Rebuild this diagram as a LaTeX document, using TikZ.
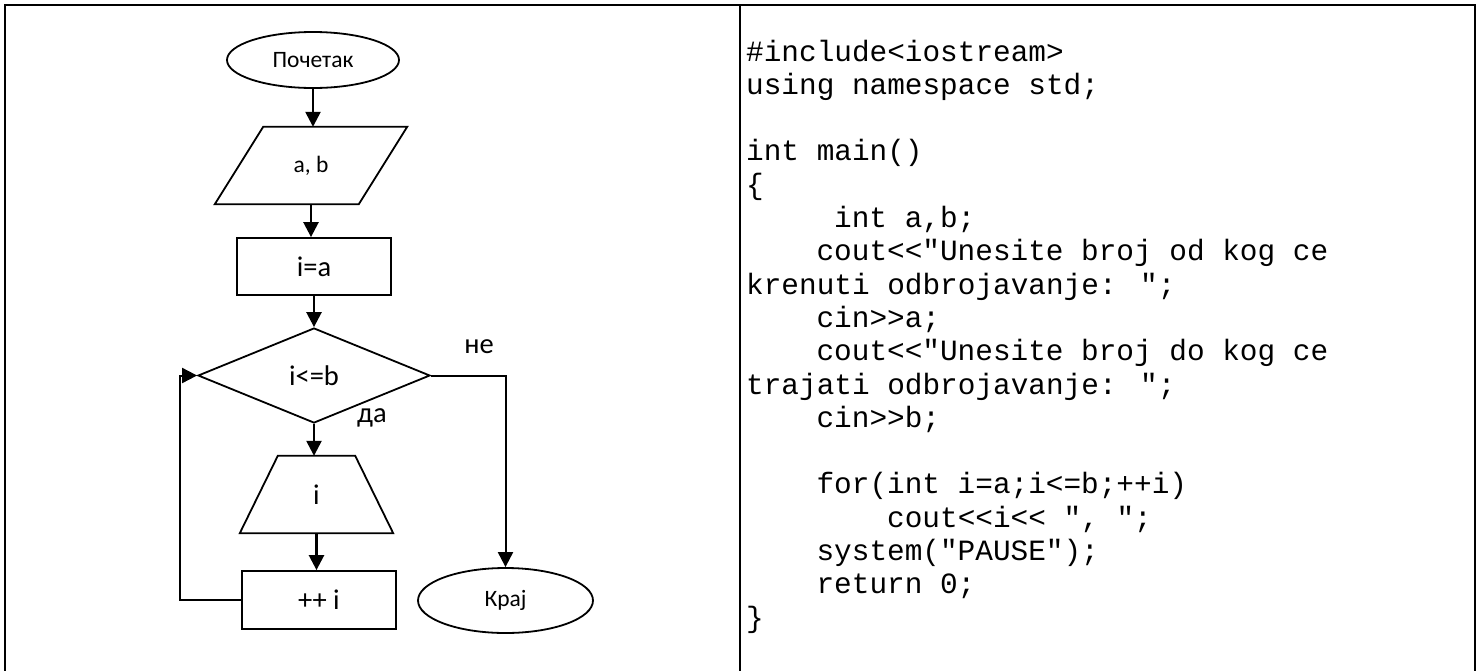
\documentclass[tikz,border=0pt]{standalone}
\usepackage{fontspec}
\setmainfont{Carlito}
\newfontfamily\codefont{Liberation Mono}
\usetikzlibrary{shapes.geometric,arrows.meta}
\begin{document}
\begin{tikzpicture}[x=1pt,y=-1pt,
  shp/.style={draw,line width=1.8pt,inner sep=0pt},
  ghost/.style={inner sep=0pt},
  small/.style={font=\fontsize{23.5}{28}\selectfont},
  big/.style={font=\fontsize{28.5}{34}\selectfont},
  arr/.style={line width=2.5pt,-{Triangle[length=15pt,width=15pt]}},
  lnk/.style={line width=2pt,-{Triangle[length=15pt,width=15pt]}},
  frame/.style={line width=2pt},
  code/.style={anchor=base west,inner sep=0pt,font=\codefont\fontsize{29.4}{33.3}\selectfont}]
\useasboundingbox (0,0) rectangle (1481,670);
% table frame
\coordinate (tl) at (5,5);
\coordinate (tr) at (1475,5);
\coordinate (bl) at (5,672);
\coordinate (br) at (1475,672);
\coordinate (mt) at (740,5);
\coordinate (mb) at (740,672);
\draw[frame] (bl) -- (tl) -- (tr) -- (br);
\draw[frame] (mt) -- (mb);
% flowchart nodes
\node[shp,ellipse,minimum width=172pt,minimum height=56pt,small] (start) at (313,60) {Почетак};
\node[ghost,minimum width=192pt,minimum height=77pt,small] (io) at (311,165.5) {a, b};
\draw[line width=1.8pt,line join=miter] (io.south west) -- ([xshift=144pt]io.south west) -- (io.north east) -- ([xshift=-144pt]io.north east) -- cycle;
\node[shp,rectangle,minimum width=154pt,minimum height=57pt,big] (init) at (314,266.5) {i=a};
\node[shp,diamond,minimum width=232pt,minimum height=95pt,big] (cond) at (314,375.5) {i<=b};
\node[ghost,minimum width=153pt,minimum height=77pt,big] (out) at (316.5,494.5) {i};
\draw[line width=1.8pt] (out.south west) -- (out.south east) -- ([xshift=-38pt]out.north east) -- ([xshift=38pt]out.north west) -- cycle;
\node[shp,rectangle,minimum width=154pt,minimum height=58pt,big] (inc) at (319,600) {++ i};
\node[shp,ellipse,minimum width=175pt,minimum height=65pt,small] (end) at (505.5,600.5) {Крај};
\node[big] (ne) at (479,347) {не};
\node[big] (da) at (372,418) {да};
% connectors
\draw[arr] (start.south) -- (start.south |- io.north);
\draw[arr] (io.south) -- (io.south |- init.north);
\draw[arr] (init.south) -- (init.south |- cond.north);
\draw[arr] (cond.south) -- (cond.south |- out.north);
\draw[arr] (out.south) -- (out.south |- inc.north);
\coordinate (lp) at (180,0);
\draw[lnk] (inc.west) -- (inc.west -| lp) -- (lp |- cond.west) -- (cond.west);
\draw[lnk] (cond.east) -| (end.north);
% code
\node[code] (c0) at (746,61.0) {\#include<iostream>};
\node[code] (c1) at (746,94.3) {using namespace std;};
\node[code] (c3) at (746,160.9) {int main()};
\node[code] (c4) at (746,194.2) {\{};
\node[code] (c5) at (834,227.5) {int a,b;};
\node[code] (c6) at (816.4,260.8) {cout<<"Unesite broj od kog ce};
\node[code] (c7) at (746,294.1) {krenuti odbrojavanje: ";};
\node[code] (c8) at (816.4,327.4) {cin>>a;};
\node[code] (c9) at (816.4,360.7) {cout<<"Unesite broj do kog ce};
\node[code] (c10) at (746,394.0) {trajati odbrojavanje: ";};
\node[code] (c11) at (816.4,427.3) {cin>>b;};
\node[code] (c13) at (816.4,493.9) {for(int i=a;i<=b;++i)};
\node[code] (c14) at (887,527.2) {cout<<i<< ", ";};
\node[code] (c15) at (816.4,560.5) {system("PAUSE");};
\node[code] (c16) at (816.4,593.8) {return 0;};
\node[code] (c17) at (746,627.1) {\}};
\end{tikzpicture}
\end{document}
